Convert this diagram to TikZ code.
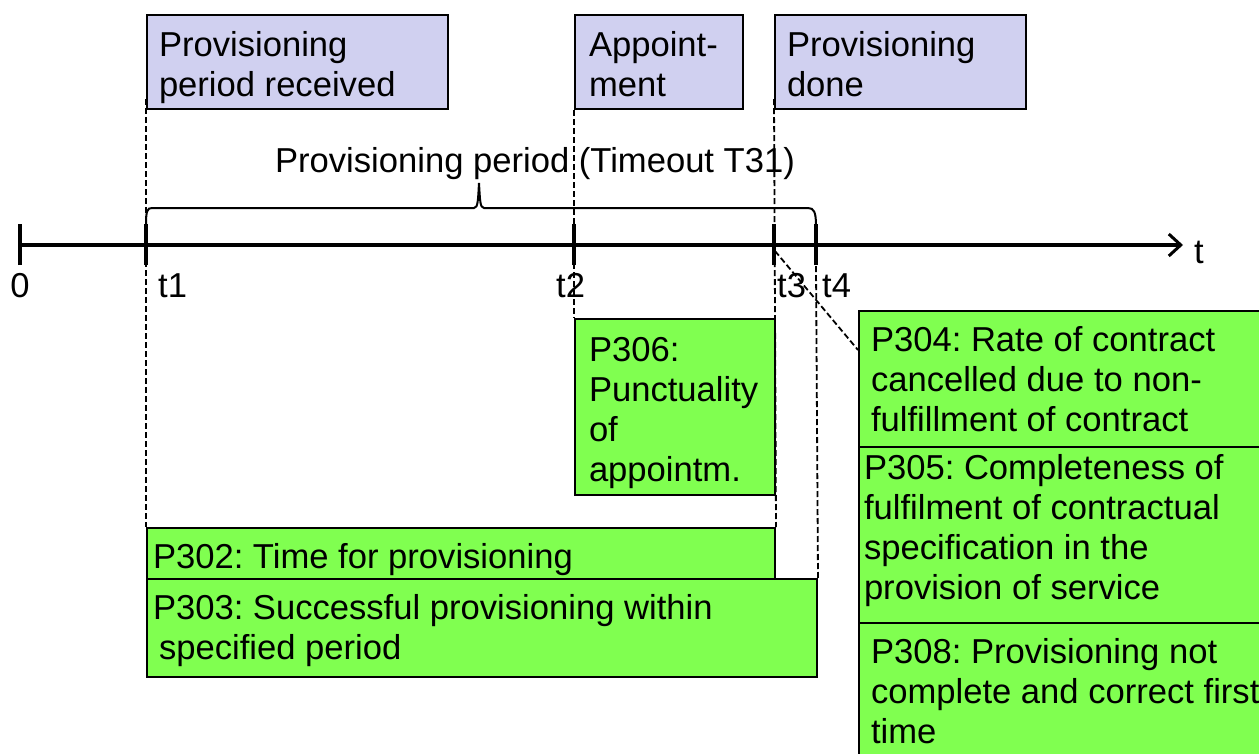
\documentclass[tikz,border=0pt]{standalone}
\usepackage{fontspec}
\setmainfont{Liberation Sans}
\usetikzlibrary{arrows.meta}
\definecolor{lav}{RGB}{208,208,240}
\definecolor{grn}{RGB}{128,255,80}
\frenchspacing
\newcommand\btext[5]{\parbox[c][#2pt][t]{#1pt}{\fontsize{34.6}{40}\selectfont\raggedright\leftskip=#3pt\rule{0pt}{#4pt}#5}}
\tikzset{
  evbox/.style={draw=black, line width=2pt, fill=lav, inner sep=0pt, anchor=north west},
  kpibox/.style={draw=black, line width=2pt, fill=grn, inner sep=0pt, anchor=north west},
  guide/.style={line width=1.8pt, dash pattern=on 6pt off 3pt},
  tickmark/.style={line width=4pt},
  axislabel/.style={inner sep=0pt, anchor=base west, font=\fontsize{34.6}{40}\selectfont},
}
\begin{document}
\begin{tikzpicture}[x=1pt,y=-1pt]
\useasboundingbox (0,0) rectangle (1259,753);

% event boxes
\node[evbox] (b1) at (146,14) {\btext{301}{94}{12}{41}{Provisioning\\period received}};
\node[evbox] (b2) at (574,14) {\btext{168}{94}{14}{41}{Appoint-\\ment}};
\node[evbox] (b3) at (774,14) {\btext{251}{94}{12}{41}{Provisioning\\done}};

% KPI boxes
\node[kpibox] (p306) at (574,318) {\btext{200}{176}{14}{42}{P306:\\Punctuality\\of\\appointm.}};
\node[kpibox] (p302) at (146,527) {\btext{628}{51}{6}{40}{P302: Time for provisioning}};
\node[kpibox] (p303) at (146,578) {\btext{670}{98}{6}{40}{P303: Successful provisioning within\\\hspace*{6pt}specified period}};
\node[kpibox] (p304) at (858,310) {\btext{430}{136}{12}{40}{P304: Rate of contract\\cancelled due to non-\\fulfillment of contract}};
\node[kpibox] (p305) at (858,446) {\btext{430}{176}{5}{32}{P305: Completeness of\\fulfilment of contractual\\specification in the\\provision of service}};
\node[kpibox] (p308) at (858,622) {\btext{430}{150}{12}{40}{P308: Provisioning not\\complete and correct first\\time}};

% time axis
\coordinate (a0) at (20,245);
\coordinate (aend) at (1183,245);
\draw[line width=4pt, -{Straight Barb[length=12pt,width=22pt,line width=3pt]}] (a0) -- (aend);
\coordinate (t0) at (20,245);
\coordinate (t1) at (146,245);
\coordinate (t2) at (574,245);
\coordinate (t3) at (774,245);
\coordinate (t4) at (816,245);
\foreach \c in {t0,t1,t2,t3,t4}{
  \draw[tickmark] ([yshift=-20pt]\c) -- ([yshift=21pt]\c);
}
\coordinate (t4b) at (816,266);

% axis labels
\node[axislabel, anchor=base] (l0) at (20,297) {0};
\node[axislabel] (l1) at (158,297) {t1};
\node[axislabel] (l2) at (556,297) {t2};
\node[axislabel] (l3) at (777,297) {t3};
\node[axislabel] (l4) at (822,297) {t4};
\node[axislabel] (lt) at (1194,263) {t};

% brace
\draw[line width=2pt] (146,226) .. controls (146,211) and (147,208) .. (152,208)
  -- (474,208) .. controls (478,208) and (478,200) .. (479,183)
  .. controls (480,200) and (480,208) .. (484,208)
  -- (808,208) .. controls (814,208) and (816,212) .. (816,226);
\node[axislabel, anchor=base] (period) at (535,172) {Provisioning period (Timeout T31)};

% guide lines
\draw[guide] ([yshift=11pt]b1.south west) -- (p302.north west);
\draw[guide] (b2.south west) -- (p306.north west);
\draw[guide] ([yshift=11pt]b3.south west) -- (p302.north east);
\draw[guide] (t4b) -- (p303.north east);
\coordinate (d0) at (775,251);
\coordinate (d1) at ([yshift=-40pt]p304.north west);
\draw[guide] (d0) -- (d1);
\end{tikzpicture}
\end{document}
